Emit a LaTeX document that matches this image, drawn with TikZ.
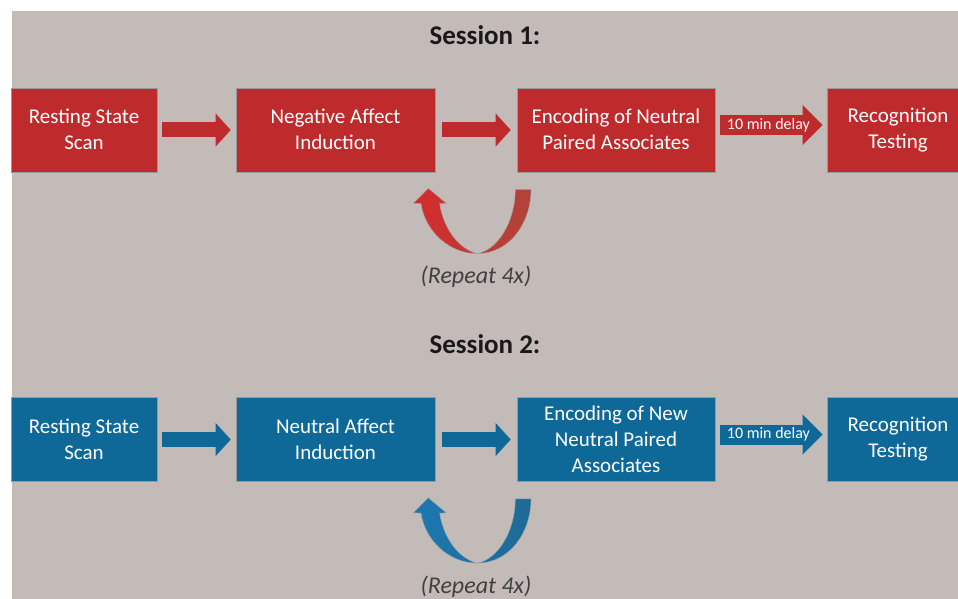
\documentclass[tikz,border=0pt]{standalone}
\usepackage{fontspec}
\setmainfont{Carlito}
\usepackage{tikz}
\usetikzlibrary{calc,arrows.meta,positioning}
\definecolor{bggray}{HTML}{C3BBB8}
\definecolor{sessred}{HTML}{BF2A2C}
\definecolor{sessblue}{HTML}{0E6999}
\definecolor{loopredL}{HTML}{D42B2B}
\definecolor{loopredR}{HTML}{B0443A}
\definecolor{loopblueL}{HTML}{1C78B2}
\definecolor{loopblueR}{HTML}{1F6A95}
\newcommand{\boxstrut}{\rule[-1pt]{0pt}{25pt}}

\begin{document}
\begin{tikzpicture}[x=1pt,y=-1pt,
  box/.style={draw=black!40, line width=0.6pt, text=white, align=center,
    minimum height=84pt, inner sep=0pt, font=\fontsize{21}{26}\selectfont,
    execute at begin node=\boxstrut, execute at end node=\boxstrut},
  redbox/.style={box, fill=sessred},
  bluebox/.style={box, fill=sessblue},
  title/.style={anchor=base, font=\bfseries\fontsize{27}{30}\selectfont, text=black!90},
  repeattext/.style={anchor=base, font=\itshape\fontsize{24}{28}\selectfont, text=black!75},
  blockarrow/.style={line width=15pt, -{Triangle[width=33pt,length=15pt,line width=0pt]}},
  delayarrow/.style={line width=20pt, -{Triangle[width=40pt,length=20pt,line width=0pt]}},
  delaytext/.style={pos=0.47, text=white, font=\fontsize{16}{18}\selectfont},
  loopred/.style={left color=loopredL, right color=loopredR, draw=black!35, line width=0.4pt},
  loopblue/.style={left color=loopblueL, right color=loopblueR, draw=black!35, line width=0.4pt}]
  \useasboundingbox (0,0) rectangle (958,599);
  \clip (0,0) rectangle (958,599);
  \fill[white] (0,0) rectangle (958,599);
  \fill[bggray] (12,11) rectangle (958,599);

  \node[title] (s1title) at (485,45) {Session 1:};
  \node[redbox, minimum width=146pt] (rs1) at (84,130) {Resting State\\Scan};
  \node[redbox, minimum width=199pt] (na1) at (335.5,130) {Negative Affect\\Induction};
  \node[redbox, minimum width=198pt] (ep1) at (616,130) {Encoding of Neutral\\Paired Associates};
  \node[redbox, minimum width=142pt] (rt1) at (898,130) {Recognition\\Testing};
  \draw[blockarrow, sessred] ([xshift=5pt]rs1.east) -- ([xshift=-5pt]na1.west);
  \draw[blockarrow, sessred] ([xshift=7pt]na1.east) -- ([xshift=-6pt]ep1.west);
  \draw[delayarrow, sessred] ([shift={(5pt,5pt)}]ep1.east) -- ([shift={(-4pt,5pt)}]rt1.west)
    node[delaytext] {10 min delay};
  \begin{scope}[shift={(na1.south east)}]
    \draw[loopred] (-14.3,31.3) .. controls (-10,60) and (15,81.3) .. (41.7,81.3)
      .. controls (75,81.3) and (95.7,50) .. (95.7,17) -- (80,17)
      .. controls (80,50) and (62,78) .. (41.7,81.3)
      .. controls (22,76) and (8,55) .. (4.3,31.3)
      -- (11,31) -- (-7,16) -- (-22,31) -- cycle;
  \end{scope}
  \node[repeattext] (rep1) at (476,283) {(Repeat 4x)};

  \node[title] (s2title) at (485,353) {Session 2:};
  \node[bluebox, minimum width=146pt] (rs2) at (84,439.5) {Resting State\\Scan};
  \node[bluebox, minimum width=199pt] (na2) at (335.5,439.5) {Neutral Affect\\Induction};
  \node[bluebox, minimum width=198pt] (ep2) at (616,439.5) {Encoding of New\\Neutral Paired\\Associates};
  \node[bluebox, minimum width=142pt] (rt2) at (898,439.5) {Recognition\\Testing};
  \draw[blockarrow, sessblue] ([xshift=5pt]rs2.east) -- ([xshift=-5pt]na2.west);
  \draw[blockarrow, sessblue] ([xshift=7pt]na2.east) -- ([xshift=-6pt]ep2.west);
  \draw[delayarrow, sessblue] ([shift={(5pt,5pt)}]ep2.east) -- ([shift={(-4pt,5pt)}]rt2.west)
    node[delaytext] {10 min delay};
  \begin{scope}[shift={(na2.south east)}]
    \draw[loopblue] (-14.3,31.3) .. controls (-10,60) and (15,81.3) .. (41.7,81.3)
      .. controls (75,81.3) and (95.7,50) .. (95.7,17) -- (80,17)
      .. controls (80,50) and (62,78) .. (41.7,81.3)
      .. controls (22,76) and (8,55) .. (4.3,31.3)
      -- (11,31) -- (-7,16) -- (-22,31) -- cycle;
  \end{scope}
  \node[repeattext] (rep2) at (476,593) {(Repeat 4x)};
\end{tikzpicture}
\end{document}
